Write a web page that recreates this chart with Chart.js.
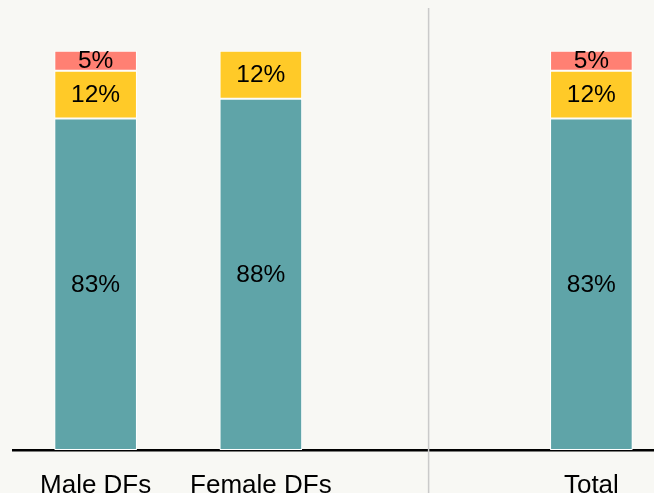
<!DOCTYPE html>
<html>
<head>
<meta charset="utf-8">
<script src="https://cdn.jsdelivr.net/npm/chart.js@4/dist/chart.umd.min.js"></script>
<style>
  html, body { margin: 0; padding: 0; background: #F8F8F4; overflow: hidden; }
  #wrap { width: 680px; height: 510px; position: relative; }
</style>
</head>
<body>
<div id="wrap"><canvas id="c" width="680" height="510"></canvas></div>
<script>
const categories = ['Male DFs', 'Female DFs', '', 'Total'];
const seriesNames = ['Main', 'Middle', 'Top'];
const mainValues   = [83, 88, null, 83];
const middleValues = [12, 12, null, 12];
const topValues    = [5, null, null, 5];
const colors = ['#5FA4A8', '#FFCA28', '#FF8073'];

const labelPlugin = {
  id: 'segLabels',
  afterDatasetsDraw(chart) {
    const ctx = chart.ctx;
    ctx.save();
    ctx.fillStyle = '#000';
    ctx.font = '24.5px "Liberation Sans", Arial, sans-serif';
    ctx.textAlign = 'center';
    ctx.textBaseline = 'middle';
    chart.data.datasets.forEach((ds, di) => {
      const meta = chart.getDatasetMeta(di);
      meta.data.forEach((el, i) => {
        const v = ds.data[i];
        if (v === null || v === undefined) return;
        ctx.fillText(v + '%', el.x, (el.y + el.base) / 2 + 1);
      });
    });
    ctx.restore();
  }
};

const separatorPlugin = {
  id: 'separator',
  beforeDatasetsDraw(chart) {
    const ctx = chart.ctx;
    const x = chart.scales.x.getPixelForValue(2.015);
    ctx.save();
    ctx.strokeStyle = '#CACACA';
    ctx.lineWidth = 1.5;
    ctx.beginPath();
    ctx.moveTo(x, chart.chartArea.top);
    ctx.lineTo(x, chart.height);
    ctx.stroke();
    ctx.restore();
  }
};

new Chart(document.getElementById('c'), {
  type: 'bar',
  data: {
    labels: categories,
    datasets: [
      { label: seriesNames[0], data: mainValues, backgroundColor: colors[0] },
      { label: seriesNames[1], data: middleValues, backgroundColor: colors[1] },
      { label: seriesNames[2], data: topValues, backgroundColor: colors[2] }
    ].map(d => Object.assign(d, {
      borderColor: '#FFFFFF', borderWidth: 1, borderSkipped: false,
      categoryPercentage: 1.0, barPercentage: 0.5
    }))
  },
  options: {
    responsive: false,
    animation: false,
    layout: { padding: { top: 8, left: 13, right: 6, bottom: 0 } },
    plugins: { legend: { display: false }, tooltip: { enabled: false } },
    scales: {
      x: {
        stacked: true,
        grid: { display: false, drawTicks: false },
        border: { display: true, color: '#000', width: 2.5 },
        ticks: {
          color: '#000',
          font: { family: '"Liberation Sans", Arial, sans-serif', size: 26 },
          padding: 20
        },
        afterFit(scale) { scale.height = 60; }
      },
      y: {
        stacked: true,
        display: false,
        min: 0,
        max: 110.7
      }
    }
  },
  plugins: [separatorPlugin, labelPlugin]
});
</script>
</body>
</html>
